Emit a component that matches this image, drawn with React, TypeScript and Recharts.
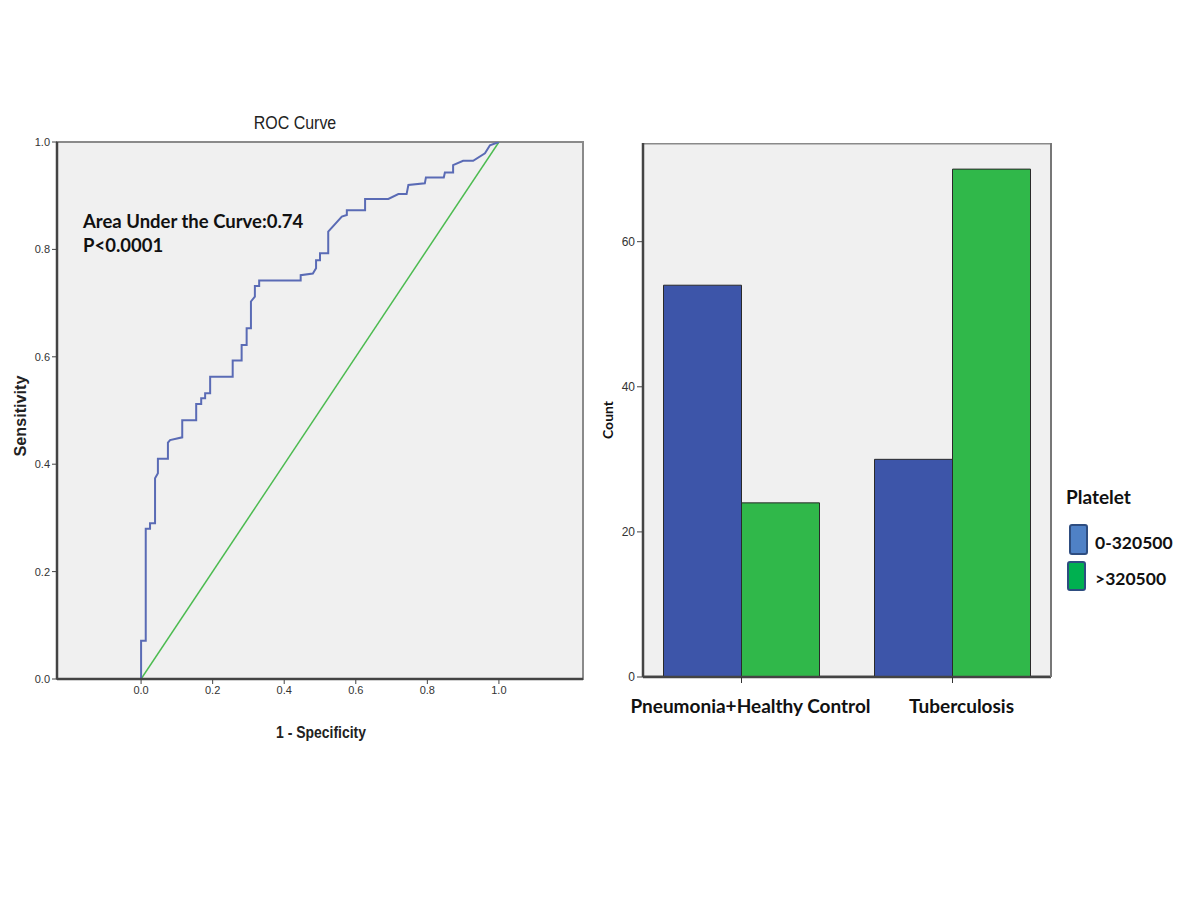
import React from 'react';
import {
  LineChart, Line, BarChart, Bar, XAxis, YAxis, ReferenceArea
} from 'recharts';

// ROC curve vertices (1 - specificity, sensitivity)
const rocFpr = [
  0, 0, 0.013, 0.013, 0.025, 0.025, 0.039, 0.039, 0.047, 0.047, 0.075, 0.075, 0.081, 0.115,
  0.115, 0.154, 0.154, 0.168, 0.168, 0.179, 0.179, 0.193, 0.193, 0.256, 0.256, 0.281, 0.281,
  0.295, 0.295, 0.307, 0.307, 0.318, 0.318, 0.33, 0.33, 0.446, 0.446, 0.48, 0.489, 0.489,
  0.5, 0.5, 0.523, 0.523, 0.561, 0.575, 0.575, 0.626, 0.626, 0.691, 0.719, 0.742, 0.747,
  0.793, 0.796, 0.846, 0.849, 0.872, 0.872, 0.9, 0.928, 0.961, 0.975, 1,
];
const rocTpr = [
  0, 0.071, 0.071, 0.28, 0.28, 0.29, 0.29, 0.374, 0.383, 0.41, 0.41, 0.44, 0.445, 0.45,
  0.482, 0.482, 0.512, 0.512, 0.523, 0.523, 0.532, 0.532, 0.563, 0.563, 0.593, 0.593, 0.622,
  0.622, 0.653, 0.653, 0.703, 0.712, 0.732, 0.732, 0.742, 0.742, 0.752, 0.755, 0.765, 0.78,
  0.78, 0.793, 0.793, 0.833, 0.861, 0.864, 0.873, 0.873, 0.894, 0.894, 0.903, 0.903, 0.92,
  0.923, 0.934, 0.934, 0.943, 0.943, 0.957, 0.965, 0.965, 0.979, 0.994, 1,
];
const refFpr = [0, 1];
const refTpr = [0, 1];
const rocTicks = [0, 0.2, 0.4, 0.6, 0.8, 1];

// bar chart
const groups = ['Pneumonia+Healthy Control', 'Tuberculosis'];
const lowCounts = [54, 30];   // 0-320500
const highCounts = [24, 70];  // >320500
const countTicks = [0, 20, 40, 60];

const rocData = rocFpr.map((x, i) => ({ fpr: x, tpr: rocTpr[i] }));
const refData = refFpr.map((x, i) => ({ fpr: x, tpr: refTpr[i] }));
const barData = groups.map((g, i) => ({ group: g, low: lowCounts[i], high: highCounts[i] }));

const narrow = "'Liberation Sans Narrow', 'Arial Narrow', 'Liberation Sans', Arial, sans-serif";
const calibri = "Lato, 'Open Sans', sans-serif";
const tickStyle = { fontSize: 11, fill: '#333', fontFamily: narrow };

const abs = (left: number, top: number, extra: React.CSSProperties = {}): React.CSSProperties => ({
  position: 'absolute', left, top, whiteSpace: 'nowrap', ...extra,
});

export default function App() {
  return (
    <div style={{ position: 'absolute', left: 0, top: 0, width: 1200, height: 900, background: '#fff' }}>
      {/* ROC curve */}
      <LineChart
        width={600}
        height={780}
        margin={{ top: 142, right: 17, bottom: 71, left: 27 }}
        style={{ position: 'absolute', left: 0, top: 0 }}
      >
        <ReferenceArea y1={0} y2={1} fill="#f0f0f0" fillOpacity={1} stroke="#8a8a8a" strokeWidth={2} />
        <XAxis
          type="number"
          dataKey="fpr"
          domain={[-0.235, 1.235]}
          allowDataOverflow
          ticks={rocTicks}
          tickFormatter={(v) => v.toFixed(1)}
          tick={tickStyle}
          tickSize={5}
          tickLine={{ stroke: '#444' }}
          axisLine={{ stroke: '#444', strokeWidth: 2.5 }}
          height={30}
        />
        <YAxis
          type="number"
          domain={[0, 1]}
          allowDataOverflow
          ticks={rocTicks}
          tickFormatter={(v) => v.toFixed(1)}
          tick={tickStyle}
          tickSize={5}
          tickLine={{ stroke: '#444' }}
          axisLine={{ stroke: '#444', strokeWidth: 2.5 }}
          width={30}
        />
        <Line
          data={refData}
          dataKey="tpr"
          type="linear"
          stroke="#4cbb50"
          strokeWidth={1.5}
          dot={false}
          isAnimationActive={false}
        />
        <Line
          data={rocData}
          dataKey="tpr"
          type="linear"
          stroke="#5a6bb5"
          strokeWidth={2}
          dot={false}
          isAnimationActive={false}
        />
      </LineChart>

      <div style={abs(295, 123, { transform: 'translate(-50%,-50%) scaleX(0.84)', fontFamily: narrow, fontSize: 19, color: '#222' })}>
        ROC Curve
      </div>
      <div style={abs(21, 416, { transform: 'translate(-50%,-50%) rotate(-90deg) scaleX(0.95)', fontFamily: narrow, fontSize: 17, fontWeight: 'bold', color: '#222' })}>
        Sensitivity
      </div>
      <div style={abs(321, 733, { transform: 'translate(-50%,-50%) scaleX(0.82)', fontFamily: narrow, fontSize: 17, fontWeight: 'bold', color: '#222' })}>
        1 - Specificity
      </div>
      <div style={abs(83, 209, { fontFamily: calibri, fontSize: 18.5, fontWeight: 'bold', color: '#111', lineHeight: '24px' })}>
        Area Under the Curve:0.74<br />P&lt;0.0001
      </div>

      {/* Platelet counts */}
      <BarChart
        width={620}
        height={780}
        data={barData}
        margin={{ top: 143, right: 148, bottom: 63, left: 33 }}
        barCategoryGap={27.5}
        barGap={0}
        style={{ position: 'absolute', left: 580, top: 0 }}
      >
        <ReferenceArea y1={0} y2={73.6} ifOverflow="hidden" fill="#f0f0f0" fillOpacity={1} stroke="#8a8a8a" strokeWidth={3} />
        <XAxis
          dataKey="group"
          padding={{ left: -7, right: -7 }}
          tick={{ fontSize: 19, fill: '#111', fontFamily: calibri, fontWeight: 'bold', dy: 15, dx: 9 }}
          tickSize={6}
          tickLine={{ stroke: '#333' }}
          axisLine={{ stroke: '#444', strokeWidth: 2.5 }}
          height={40}
        />
        <YAxis
          type="number"
          domain={[0, 73.6]}
          allowDataOverflow
          ticks={countTicks}
          tick={{ ...tickStyle, fontSize: 12 }}
          tickSize={6}
          tickLine={{ stroke: '#444' }}
          axisLine={{ stroke: '#444', strokeWidth: 2.5 }}
          width={30}
        />
        <YAxis
          yAxisId="frame"
          orientation="right"
          type="number"
          domain={[0, 73.6]}
          tick={false}
          tickLine={false}
          axisLine={{ stroke: '#777', strokeWidth: 2 }}
          width={1}
        />
        <Bar dataKey="low" fill="#3d55a9" stroke="#2a2a2a" strokeWidth={1} isAnimationActive={false} />
        <Bar dataKey="high" fill="#30b84a" stroke="#2a2a2a" strokeWidth={1} isAnimationActive={false} />
      </BarChart>

      <div style={abs(607, 420, { transform: 'translate(-50%,-50%) rotate(-90deg)', fontFamily: calibri, fontSize: 14, fontWeight: 'bold', color: '#111' })}>
        Count
      </div>

      {/* legend */}
      <div style={abs(1066, 485, { fontFamily: calibri, fontSize: 19, fontWeight: 'bold', color: '#111' })}>
        Platelet
      </div>
      <div style={abs(1069, 524, { width: 15, height: 27, background: '#4f81c6', border: '2px solid #2e4d80', borderRadius: 3 })} />
      <div style={abs(1095, 532, { fontFamily: calibri, fontSize: 17.5, fontWeight: 'bold', color: '#111' })}>
        0-320500
      </div>
      <div style={abs(1067, 561, { width: 15, height: 26, background: '#00b050', border: '2px solid #2e4d80', borderRadius: 3 })} />
      <div style={abs(1095, 568, { fontFamily: calibri, fontSize: 17.5, fontWeight: 'bold', color: '#111' })}>
        &gt;320500
      </div>
    </div>
  );
}
